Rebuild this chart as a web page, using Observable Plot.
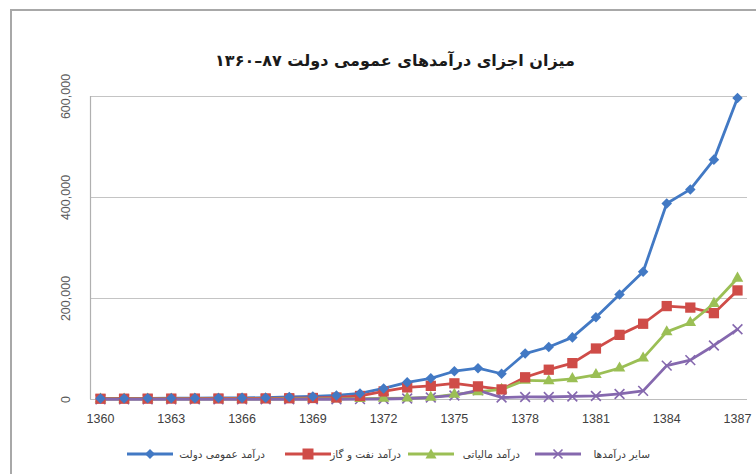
<!DOCTYPE html>
<html><head><meta charset="utf-8">
<script src="https://cdn.jsdelivr.net/npm/d3@7"></script>
<script src="https://cdn.jsdelivr.net/npm/@observablehq/plot@0.6"></script>
<style>
html,body{margin:0;padding:0;background:#fff;width:756px;height:474px;overflow:hidden;position:relative;}
#border{position:absolute;left:10px;top:9px;width:800px;height:520px;border:2px solid #a8a8a8;box-sizing:border-box;}
#chart{position:absolute;left:0;top:0;}
#title{position:absolute;left:0;width:790px;top:51px;text-align:center;direction:rtl;font-family:"DejaVu Sans",sans-serif;font-weight:bold;font-size:16px;color:#1a1a1a;}
#legend{position:absolute;left:0;top:444px;width:756px;height:20px;}
.ls{position:absolute;top:0;height:20px;}
.lt{position:absolute;top:0;height:20px;line-height:20px;font-family:"DejaVu Sans",sans-serif;font-size:10.5px;color:#404040;direction:rtl;white-space:nowrap;text-align:right;}
</style></head>
<body>
<div id="border"></div>
<div id="chart"></div>
<div id="title">میزان اجزای درآمدهای عمومی دولت ۸۷–۱۳۶۰</div>
<div id="legend"></div>
<script>
const years = [1360,1361,1362,1363,1364,1365,1366,1367,1368,1369,1370,1371,1372,1373,1374,1375,1376,1377,1378,1379,1380,1381,1382,1383,1384,1385,1386,1387];
const seriesNames = ["درآمد عمومی دولت","درآمد نفت و گاز","درآمد مالیاتی","سایر درآمدها"];
const general = [2000,2200,2400,2500,2700,3000,3200,3600,5000,6000,8000,12000,22000,34000,42000,56000,62000,51000,91000,104000,123000,163000,208000,253000,388000,416000,475000,597000];
const oilGas  = [1500,1600,1700,1800,1900,2000,2100,2200,2500,3000,4000,7000,16000,24000,27000,32000,26000,20000,44000,59000,72000,101000,128000,150000,185000,182000,171000,216000];
const tax     = [600,650,700,700,750,800,850,900,1000,1100,1200,1500,2000,2500,4000,10000,15000,20000,38000,37000,41000,49000,62000,82000,134000,152000,190000,240000];
const other   = [300,300,300,300,300,350,350,400,400,450,500,700,1000,2000,4000,8000,18000,4000,5000,5000,6000,7000,11000,17000,67000,78000,107000,139000];
const xTicks = [1360,1363,1366,1369,1372,1375,1378,1381,1384,1387];
const yTicks = [0,200000,400000,600000];
const colors = ["#4279C4","#CF4C48","#9BBF55","#8568AE"];

const valuesList = [general, oilGas, tax, other];
const table = [];
seriesNames.forEach((s,i)=>years.forEach((y,j)=>table.push({series:s, idx:i, year:y, value:valuesList[i][j]})));
const bySeries = i => table.filter(d=>d.idx===i);

const fmt = d3.format(",");
const chart = Plot.plot({
  width: 756, height: 474,
  marginLeft: 90, marginRight: 9, marginTop: 96, marginBottom: 75,
  insetLeft: 10, insetRight: 10,
  x: {type:"linear", domain:[1360,1387], axis:null},
  y: {domain:[0,600000], axis:null},
  style: {background:"transparent", overflow:"visible"},
  marks: [
    Plot.ruleY(yTicks.slice(1), {stroke:"#c4c4c4", strokeWidth:1.2, strokeOpacity:1}),
    Plot.ruleY([0], {stroke:"#bdbdbd", strokeWidth:1.2}),
    Plot.ruleX([1360], {y1:0, y2:600000, dx:-10, stroke:"#b0b0b0", strokeWidth:1.2}),
    Plot.text(yTicks, {y:d=>d, text:d=>fmt(d), frameAnchor:"left", dx:-25, rotate:-90, textAnchor:"middle", lineAnchor:"middle", fontSize:12.5, fill:"#595959", fontFamily:"Liberation Sans, Arial, sans-serif"}),
    Plot.text(xTicks, {x:d=>d, text:d=>String(d), frameAnchor:"bottom", dy:19, textAnchor:"middle", lineAnchor:"middle", fontSize:12.5, fill:"#404040", fontFamily:"Liberation Sans, Arial, sans-serif"}),
    Plot.line(table, {x:"year", y:"value", z:"series", stroke:d=>colors[d.idx], strokeWidth:2.8}),
    Plot.dot(bySeries(3), {x:"year", y:"value", symbol:"times", r:4.5, stroke:colors[3], strokeWidth:1.6}),
    Plot.dot(bySeries(2), {x:"year", y:"value", symbol:"triangle", r:4.3, fill:colors[2], stroke:"none"}),
    Plot.dot(bySeries(1), {x:"year", y:"value", symbol:"square", r:5.8, fill:colors[1], stroke:"none"}),
    Plot.dot(bySeries(0), {x:"year", y:"value", symbol:"square", rotate:45, r:4.2, fill:colors[0], stroke:"none"})
  ]
});
document.getElementById("chart").appendChild(chart);

// legend
const lineStart = [127, 285, 408, 535];
const labelRight = [265, 401, 520, 650];
const symbols = ["diamond","square","triangle","times"];
const leg = document.getElementById("legend");
seriesNames.forEach((s,i)=>{
  const ns = "http://www.w3.org/2000/svg";
  const svg = document.createElementNS(ns,"svg");
  svg.setAttribute("class","ls");
  svg.setAttribute("width",46); svg.setAttribute("height",20);
  svg.style.left = lineStart[i] + "px";
  const ln = document.createElementNS(ns,"line");
  ln.setAttribute("x1",0); ln.setAttribute("x2",46); ln.setAttribute("y1",10); ln.setAttribute("y2",10);
  ln.setAttribute("stroke",colors[i]); ln.setAttribute("stroke-width",2.8);
  svg.appendChild(ln);
  const p = document.createElementNS(ns,"path");
  let dpath;
  if (symbols[i]==="diamond") dpath = "M23,5L28,10L23,15L18,10Z";
  else if (symbols[i]==="square") dpath = "M17.5,4.5H28.5V15.5H17.5Z";
  else if (symbols[i]==="triangle") dpath = "M23,4.5L28.5,14.5H17.5Z";
  else dpath = "M18.5,5.5L27.5,14.5M27.5,5.5L18.5,14.5";
  p.setAttribute("d",dpath);
  if (symbols[i]==="times"){p.setAttribute("stroke",colors[i]);p.setAttribute("stroke-width",1.6);p.setAttribute("fill","none");}
  else p.setAttribute("fill",colors[i]);
  svg.appendChild(p);
  leg.appendChild(svg);
  const sp = document.createElement("div");
  sp.className = "lt";
  sp.style.right = (756 - labelRight[i]) + "px";
  sp.textContent = s;
  leg.appendChild(sp);
});
</script>
</body></html>
